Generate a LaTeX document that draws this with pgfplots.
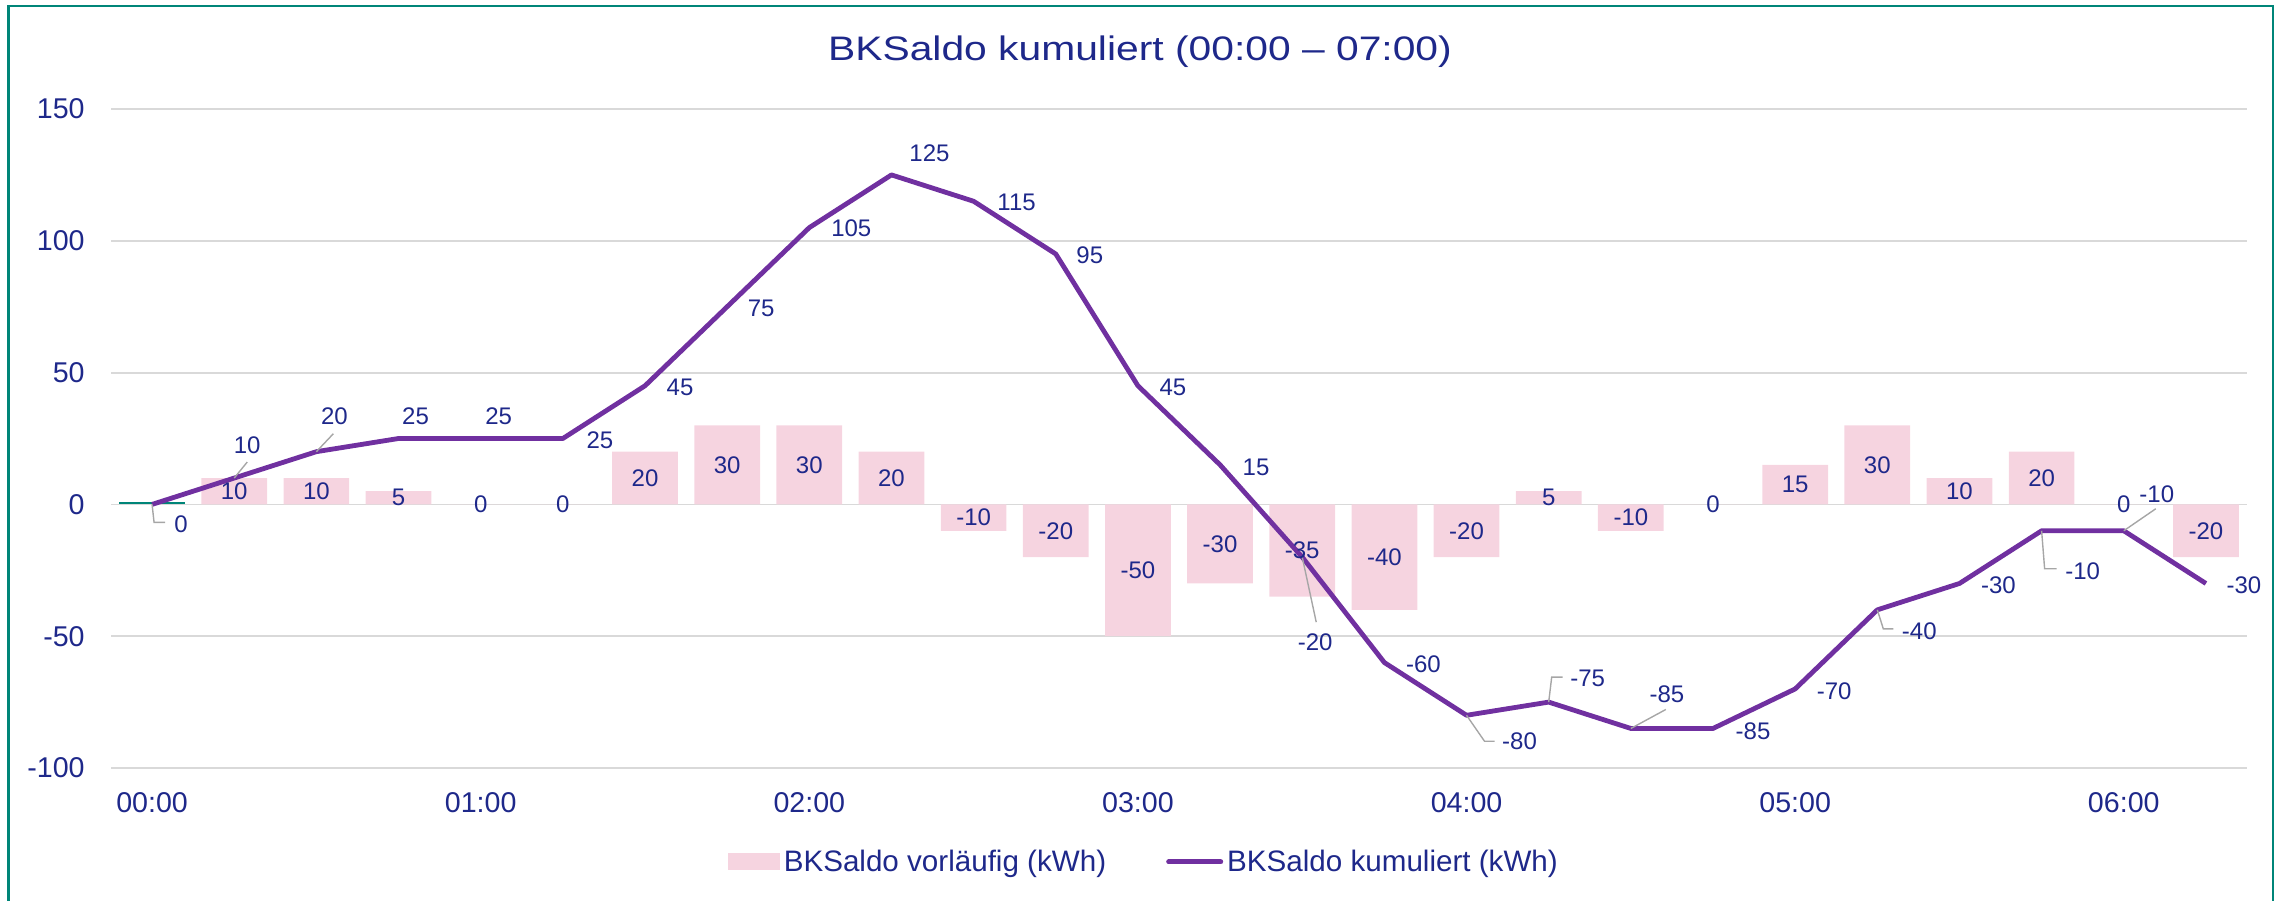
\documentclass[border=0pt]{standalone}
\usepackage{fontspec}
\setmainfont{Liberation Sans}
\newfontfamily\titlefont{Liberation Sans}[FakeStretch=1.2]
\usepackage{pgfplots}
\usepackage{pgfplotstable}
\pgfplotsset{compat=1.18}
\definecolor{navy}{RGB}{30,40,138}
\definecolor{linepurple}{RGB}{112,48,160}
\definecolor{barpink}{RGB}{246,212,224}
\definecolor{gridgray}{RGB}{217,217,217}
\definecolor{tealc}{RGB}{0,133,120}
\definecolor{leadgray}{RGB}{166,166,166}

\pgfplotstableread{
x y
1 10
2 10
3 5
4 0
5 0
6 20
7 30
8 30
9 20
10 -10
11 -20
12 -50
13 -30
14 -35
15 -40
16 -20
17 5
18 -10
19 0
20 15
21 30
22 10
23 20
24 0
25 -20
}\bardata

\pgfplotstableread{
x y dx dy
0 0 14.5 -10
1 10 6.5 16.5
2 20 9 17.5
3 25 8.5 11
4 25 9 11
5 25 18.5 -1
6 45 17.5 -1
7 75 17 -1
8 105 21 -0.5
9 125 19 11
10 115 21.5 -0.5
11 95 17 -0.5
12 45 17.5 -1
13 15 18 -1
14 -20 6.5 -42.5
15 -60 19.5 -1
16 -80 26.5 -13
17 -75 19.5 12
18 -85 18 17
19 -85 20 -1.5
20 -70 19.5 -1
21 -40 21 -10.5
22 -30 19.5 -1
23 -10 20.5 -20
24 -10 16.5 18.5
25 -30 19 -1
}\cumdata

\begin{document}
\begin{tikzpicture}
\useasboundingbox (0pt,0pt) rectangle (1142.5pt,450pt);
\draw[tealc, line width=1.2pt] (4.25pt,-10pt) rectangle (1136.5pt,447pt);
\node[anchor=base, inner sep=0pt, text=navy, font=\titlefont\fontsize{17}{20}\selectfont] at (570pt,419.5pt) {BKSaldo kumuliert (00:00 – 07:00)};
\begin{axis}[
  at={(55.5pt,66pt)}, anchor=south west,
  scale only axis, width=1068pt, height=329.5pt,
  xmin=-0.5, xmax=25.5, ymin=-100, ymax=150,
  ytick={-100,-50,...,150},
  xtick={0,4,...,24},
  xticklabels={00:00,01:00,02:00,03:00,04:00,05:00,06:00},
  ymajorgrids, grid style={line width=0.9pt, gridgray},
  axis line style={draw=none}, major tick length=0pt,
  tick label style={font=\fontsize{14.3}{16}\selectfont, text=navy},
  /pgf/number format/assume math mode=true,
  xticklabel style={anchor=center, inner sep=0pt, yshift=-17.5pt},
  yticklabel style={anchor=east, inner sep=0pt, xshift=-13pt},
  clip=false,
  legend style={draw=none, fill=none, at={(0.484,-0.1426)}, anchor=center,
    font=\fontsize{14.8}{16}\selectfont, text=navy,
    /tikz/every even column/.append style={column sep=28pt},
    nodes={inner sep=2pt}},
  legend columns=2, legend cell align=left,
]
\addplot[ybar, bar width=0.8, bar shift=0pt, fill=tealc, draw=none, forget plot] coordinates {(0,0.8)};
\addplot[ybar, bar width=0.8, bar shift=0pt, fill=barpink, draw=none,
  nodes near coords, point meta=rawy,
  visualization depends on={rawy \as \ry},
  nodes near coords style={anchor=center, inner sep=0pt, yshift={-0.659pt*(\ry)}, font=\fontsize{12}{14}\selectfont, text=navy},
  legend image code/.code={\fill[barpink] (0pt,-4.25pt) rectangle (26pt,4.25pt);}
  ] table[x=x,y=y] {\bardata};
\addlegendentry{BKSaldo vorläufig (kWh)}
\addplot[linepurple, line width=2.4pt, line join=round, mark=none,
  nodes near coords, point meta=rawy,
  visualization depends on={\thisrow{dx} \as \dx},
  visualization depends on={\thisrow{dy} \as \dy},
  nodes near coords style={anchor=center, inner sep=0pt, xshift=\dx pt, yshift=\dy pt, font=\fontsize{12}{14}\selectfont, text=navy},
  legend image code/.code={\draw[linepurple, line width=2.5pt, line cap=round] (0pt,0pt) -- (26pt,0pt);}
  ] table[x=x,y=y] {\cumdata};
\addlegendentry{BKSaldo kumuliert (kWh)}
\begin{scope}[leadgray, line width=0.7pt]
\draw (axis cs:0,0) -- ++(1pt,-9pt) -- ++(5.5pt,0pt);
\draw (axis cs:1,10) -- ++(6.5pt,8pt);
\draw (axis cs:2,20) -- ++(8.5pt,9pt);
\draw (axis cs:14,-20) -- ++(7pt,-32.5pt);
\draw (axis cs:16,-80) -- ++(9pt,-13pt) -- ++(5pt,0pt);
\draw (axis cs:17,-75) -- ++(1.5pt,12.5pt) -- ++(5.5pt,0pt);
\draw (axis cs:18,-85) -- ++(17.5pt,9.5pt);
\draw (axis cs:21,-40) -- ++(3pt,-9.5pt) -- ++(5pt,0pt);
\draw (axis cs:23,-10) -- ++(1.5pt,-19pt) -- ++(6pt,0pt);
\draw (axis cs:24,-10) -- ++(16pt,11pt);
\end{scope}
\end{axis}
\end{tikzpicture}
\end{document}
